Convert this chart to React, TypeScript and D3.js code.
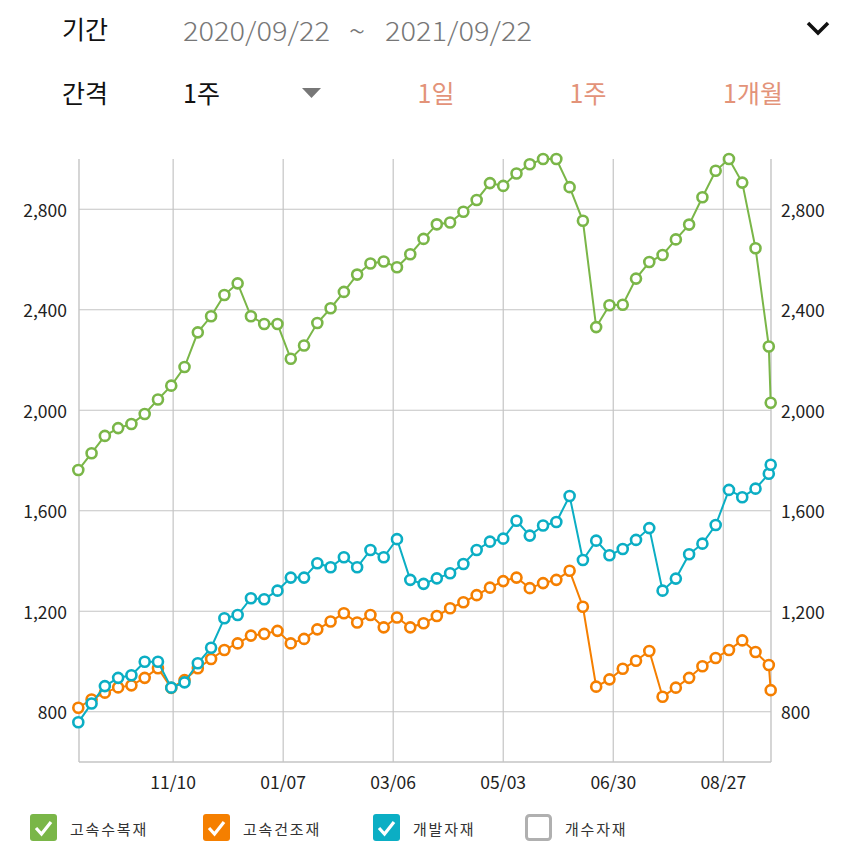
import React from "react";
import * as d3 from "d3";

const dates: string[] = [
  "2020-09-22", "2020-09-29", "2020-10-06", "2020-10-13", "2020-10-20", "2020-10-27",
  "2020-11-03", "2020-11-10", "2020-11-17", "2020-11-24", "2020-12-01", "2020-12-08",
  "2020-12-15", "2020-12-22", "2020-12-29", "2021-01-05", "2021-01-12", "2021-01-19",
  "2021-01-26", "2021-02-02", "2021-02-09", "2021-02-16", "2021-02-23", "2021-03-02",
  "2021-03-09", "2021-03-16", "2021-03-23", "2021-03-30", "2021-04-06", "2021-04-13",
  "2021-04-20", "2021-04-27", "2021-05-04", "2021-05-11", "2021-05-18", "2021-05-25",
  "2021-06-01", "2021-06-08", "2021-06-15", "2021-06-22", "2021-06-29", "2021-07-06",
  "2021-07-13", "2021-07-20", "2021-07-27", "2021-08-03", "2021-08-10", "2021-08-17",
  "2021-08-24", "2021-08-31", "2021-09-07", "2021-09-14", "2021-09-21", "2021-09-22",
];

// 고속수복재
const greenValues: number[] = [
  1762, 1829, 1898, 1929, 1945, 1985, 2043, 2098, 2172, 2310, 2374, 2459,
  2505, 2374, 2343, 2343, 2205, 2258, 2347, 2406, 2471, 2540, 2584, 2592,
  2569, 2621, 2682, 2740, 2747, 2790, 2837, 2904, 2893, 2942, 2979, 3000,
  3000, 2888, 2754, 2331, 2418, 2420, 2524, 2590, 2618, 2680, 2739, 2848,
  2953, 3000, 2906, 2645, 2254, 2030,
];

// 고속건조재
const orangeValues: number[] = [
  816, 849, 876, 897, 905, 935, 973, 895, 926, 973, 1010, 1046,
  1072, 1103, 1110, 1122, 1072, 1090, 1128, 1159, 1192, 1155, 1185, 1136,
  1175, 1136, 1152, 1181, 1212, 1236, 1264, 1294, 1320, 1334, 1292, 1312,
  1325, 1361, 1218, 900, 929, 971, 1003, 1042, 860, 896, 935, 981,
  1014, 1046, 1084, 1038, 986, 886,
];

// 개발자재
const blueValues: number[] = [
  758, 833, 902, 935, 945, 999, 999, 896, 917, 993, 1055, 1172,
  1185, 1252, 1248, 1282, 1334, 1334, 1391, 1375, 1415, 1375, 1444, 1415,
  1487, 1325, 1309, 1331, 1351, 1388, 1444, 1477, 1489, 1560, 1501, 1541,
  1555, 1659, 1404, 1481, 1423, 1448, 1484, 1531, 1282, 1330, 1427, 1469,
  1543, 1683, 1654, 1688, 1747, 1783,
];

const xTickDates: string[] = ["2020-11-10", "2021-01-07", "2021-03-06", "2021-05-03", "2021-06-30", "2021-08-27"];
const xTickLabels: string[] = ["11/10", "01/07", "03/06", "05/03", "06/30", "08/27"];
const yTicks: number[] = [800, 1200, 1600, 2000, 2400, 2800];

const seriesNames: string[] = ["고속수복재", "고속건조재", "개발자재", "개수자재"];
const seriesColors: string[] = ["#7AB648", "#F57F00", "#0BAEC4", "#B0B0B0"];
const seriesOn: boolean[] = [true, true, true, false];

const periodStart = "2020/09/22";
const periodEnd = "2021/09/22";
const intervalOptions: string[] = ["1일", "1주", "1개월"];

const FONT = "'Noto Sans CJK KR', 'Noto Sans', sans-serif";

export default function App() {
  const W = 850, H = 846;
  const left = 79, right = 771, top = 159, bottom = 762;
  const parse = d3.timeParse("%Y-%m-%d");
  const xs = dates.map((d) => parse(d) as Date);
  const x = d3.scaleTime().domain([xs[0], xs[xs.length - 1]]).range([78.3, 770.7]);
  const y = d3.scaleLinear().domain([600, 3000]).range([bottom, top]);
  const fmt = d3.format(",");
  const line = d3
    .line<number>()
    .x((_, i) => x(xs[i]))
    .y((v) => y(v));
  const allSeries = [greenValues, orangeValues, blueValues];
  const grid = "#C4C4C4";
  // grid lines in the reference sit about a day right of the date positions
  const gridX = (d: string) => x(d3.timeDay.offset(parse(d) as Date, 1));

  const legendX = [30, 203, 373, 525];

  return (
    <svg width={W} height={H} style={{ position: "absolute", left: 0, top: 0, background: "#fff" }} fontFamily={FONT}>
      <rect width={W} height={H} fill="#fff" />
      {/* header */}
      <text x={62} y={28} fontSize={25} fill="#111" dominantBaseline="central">기간</text>
      <text x={183} y={29} fontSize={26} fill="#777" dominantBaseline="central" textLength={147} lengthAdjust="spacingAndGlyphs" fontWeight={300}>
        {periodStart}
      </text>
      <text x={357} y={29} fontSize={30} fill="#777" textAnchor="middle" dominantBaseline="central" fontWeight={300}>~</text>
      <text x={385} y={29} fontSize={26} fill="#777" dominantBaseline="central" textLength={147} lengthAdjust="spacingAndGlyphs" fontWeight={300}>
        {periodEnd}
      </text>
      <path d="M808,23 L818,33 L828,23" fill="none" stroke="#111" strokeWidth={3.5} />
      <text x={62} y={92} fontSize={25} fill="#111" dominantBaseline="central">간격</text>
      <text x={183} y={92} fontSize={25} fill="#111" dominantBaseline="central">1주</text>
      <path d="M302,88 L321,88 L311.5,98 Z" fill="#777" />
      {intervalOptions.map((t, i) => (
        <text key={t} x={[436, 588, 753][i]} y={92} fontSize={25} fill="#E39379" textAnchor="middle" dominantBaseline="central">
          {t}
        </text>
      ))}

      {/* grid */}
      {yTicks.map((t) => (
        <line key={"gy" + t} x1={left} x2={right} y1={y(t)} y2={y(t)} stroke={grid} strokeWidth={1.2} />
      ))}
      {xTickDates.map((d) => {
        const xx = gridX(d);
        return <line key={"gx" + d} x1={xx} x2={xx} y1={top} y2={bottom} stroke={grid} strokeWidth={1.2} />;
      })}
      <line x1={left} x2={left} y1={top} y2={bottom} stroke={grid} strokeWidth={1.4} />
      <line x1={right} x2={right} y1={top} y2={bottom} stroke={grid} strokeWidth={1.4} />
      <line x1={left} x2={right} y1={bottom} y2={bottom} stroke={grid} strokeWidth={1.4} />

      {/* y labels */}
      {yTicks.map((t) => (
        <g key={"yl" + t}>
          <text x={67} y={y(t)} fontSize={17.5} fill="#222" textAnchor="end" dominantBaseline="central">
            {fmt(t)}
          </text>
          <text x={781} y={y(t)} fontSize={17.5} fill="#222" textAnchor="start" dominantBaseline="central">
            {fmt(t)}
          </text>
        </g>
      ))}
      {/* x labels */}
      {xTickDates.map((d, i) => (
        <text key={"xl" + d} x={gridX(d)} y={781} fontSize={17.5} fill="#222" textAnchor="middle" dominantBaseline="central">
          {xTickLabels[i]}
        </text>
      ))}

      {/* series */}
      {allSeries.map((vals, si) => (
        <g key={"s" + si}>
          <path d={line(vals) || ""} fill="none" stroke={seriesColors[si]} strokeWidth={2} />
          {vals.map((v, i) => (
            <circle key={i} cx={x(xs[i])} cy={y(v)} r={5} fill="#fff" stroke={seriesColors[si]} strokeWidth={2.6} />
          ))}
        </g>
      ))}

      {/* legend */}
      {seriesNames.map((n, i) => {
        const lx = legendX[i];
        const ly = 814;
        return (
          <g key={"lg" + n}>
            {seriesOn[i] ? (
              <>
                <rect x={lx} y={ly} width={27} height={27} rx={3} fill={seriesColors[i]} />
                <path d={`M${lx + 6},${ly + 14} L${lx + 11.5},${ly + 20} L${lx + 21},${ly + 8}`} fill="none" stroke="#fff" strokeWidth={3.2} />
              </>
            ) : (
              <rect x={lx + 1.5} y={ly + 1.5} width={24} height={24} rx={3} fill="#fff" stroke={seriesColors[i]} strokeWidth={3} />
            )}
            <text x={lx + 40} y={ly + 14} fontSize={15} fill="#333" letterSpacing={1.8} dominantBaseline="central">
              {n}
            </text>
          </g>
        );
      })}
    </svg>
  );
}
